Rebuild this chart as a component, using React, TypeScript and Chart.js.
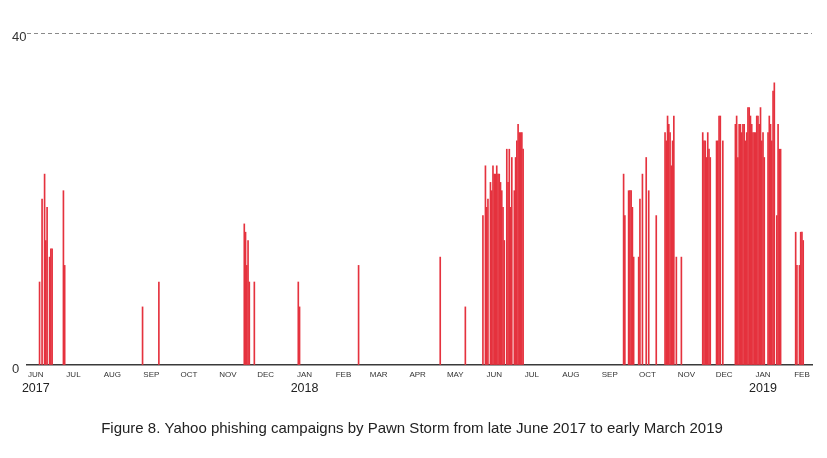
import React, { useEffect, useRef } from 'react';
import { Chart, registerables } from 'chart.js';

Chart.register(...registerables);

// day 0 = 1 June 2017
const campaignDays = [
  3, 5, 7, 8, 9, 11, 12, 13, 22, 23,
  85, 98,
  166, 167, 168, 169, 170, 174,
  209, 210, 257, 322, 342,
  356, 358, 359, 360, 362, 363, 364, 365, 366, 367, 368, 369, 370, 371, 372, 373,
  375, 376, 377, 378, 379, 381, 382, 383, 384, 385, 386, 387, 388,
  468, 469, 472, 473, 474, 475, 476, 480, 481, 483, 486, 488, 494,
  501, 502, 503, 504, 505, 506, 507, 508, 510, 514,
  531, 532, 533, 534, 535, 536, 537, 542, 543, 544, 545, 547,
  557, 558, 559, 560, 561, 562, 563, 564, 565, 566, 567, 568, 569, 570, 571, 572,
  573, 574, 575, 576, 577, 578, 579, 580, 583, 584, 585, 586, 587, 588, 590, 591, 592, 593,
  605, 606, 608, 609, 610, 611,
];
const campaignCounts = [
  10, 20, 23, 15, 19, 13, 14, 14, 21, 12,
  7, 10,
  17, 16, 12, 15, 10, 10,
  10, 7, 12, 13, 7,
  18, 24, 19, 20, 22, 21, 24, 23, 23, 24, 23, 23, 22, 21, 19, 15,
  26, 22, 26, 19, 25, 21, 25, 27, 29, 28, 28, 28, 26,
  23, 18, 21, 21, 21, 19, 13, 13, 20, 23, 25, 21, 18,
  28, 27, 30, 29, 28, 24, 27, 30, 13, 13,
  28, 27, 27, 25, 28, 26, 25, 27, 27, 30, 30, 27,
  29, 30, 25, 29, 29, 28, 29, 29, 27, 28, 31, 31, 30, 29, 28, 28,
  28, 30, 30, 29, 31, 27, 28, 25, 28, 30, 29, 27, 33, 34, 18, 29, 26, 26,
  16, 12, 12, 16, 16, 15,
];

const monthTickDays = [0, 30, 61, 92, 122, 153, 183, 214, 245, 273, 304, 334, 365, 395, 426, 457, 487, 518, 548, 579, 610];
const monthLabels = ['JUN', 'JUL', 'AUG', 'SEP', 'OCT', 'NOV', 'DEC', 'JAN', 'FEB', 'MAR', 'APR', 'MAY', 'JUN', 'JUL', 'AUG', 'SEP', 'OCT', 'NOV', 'DEC', 'JAN', 'FEB'];
const yearTickDays = [0, 214, 579];
const yearLabels = ['2017', '2018', '2019'];
const yTickValues = [0, 40];

const FONT = '"Liberation Sans", Arial, sans-serif';

const App = () => {
  const canvasRef = useRef<HTMLCanvasElement>(null);

  useEffect(() => {
    const chart = new Chart(canvasRef.current!, {
      type: 'bar',
      data: {
        datasets: [{
          data: campaignDays.map((d, i) => ({ x: d, y: campaignCounts[i] })),
          backgroundColor: '#e5323e',
          borderWidth: 0,
          barThickness: 1,
        }],
      },
      options: {
        animation: false,
        responsive: true,
        maintainAspectRatio: false,
        layout: { padding: { left: 4, right: 7, top: 25, bottom: 0 } },
        plugins: {
          legend: { display: false },
          tooltip: { enabled: false },
          title: {
            display: true,
            position: 'bottom',
            text: 'Figure 8. Yahoo phishing campaigns by Pawn Storm from late June 2017 to early March 2019',
            color: '#222',
            font: { family: FONT, size: 15, weight: 'normal' },
            padding: { top: 9, bottom: 12 },
          },
        },
        scales: {
          x: {
            type: 'linear',
            offset: false,
            min: -7,
            max: 618,
            position: 'bottom',
            afterBuildTicks: (s: any) => { s.ticks = monthTickDays.map(v => ({ value: v })); },
            afterFit: (s: any) => { s.height = 15; },
            grid: { display: false, drawTicks: false },
            border: { display: true, color: '#3a3a3a', width: 1.5 },
            ticks: {
              autoSkip: false,
              maxRotation: 0,
              padding: 5,
              color: '#333',
              font: { family: FONT, size: 8 },
              callback: (_v: any, i: number) => monthLabels[i],
            },
          },
          years: {
            type: 'linear',
            offset: false,
            min: -7,
            max: 618,
            position: 'bottom',
            afterBuildTicks: (s: any) => { s.ticks = yearTickDays.map(v => ({ value: v })); },
            afterFit: (s: any) => { s.height = 31; },
            grid: { display: false, drawTicks: false },
            border: { display: false },
            ticks: {
              autoSkip: false,
              maxRotation: 0,
              padding: 1,
              color: '#222',
              font: { family: FONT, size: 12.5 },
              callback: (_v: any, i: number) => yearLabels[i],
            },
          },
          y: {
            min: 0,
            max: 40,
            afterBuildTicks: (s: any) => { s.ticks = yTickValues.map(v => ({ value: v })); },
            afterFit: (s: any) => { s.width = 15; },
            grid: {
              drawTicks: false,
              color: (c: any) => (c.tick && c.tick.value === 40 ? '#8a8a8a' : 'rgba(0,0,0,0)'),
            },
            border: { display: false, dash: [4, 3], dashOffset: 0 },
            ticks: {
              crossAlign: 'far',
              padding: 0,
              labelOffset: 4,
              color: '#333',
              font: { family: FONT, size: 13 },
            },
          },
        },
      },
    } as any);

    return () => chart.destroy();
  }, []);

  return (
    <div style={{ position: 'relative', width: '100%', height: 442 }}>
      <canvas ref={canvasRef} />
    </div>
  );
};

export default App;
